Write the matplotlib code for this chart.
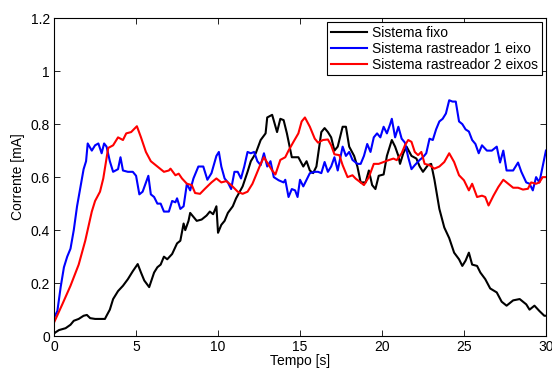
import matplotlib
matplotlib.use("Agg")
import matplotlib.pyplot as plt
from matplotlib.ticker import FormatStrFormatter

# ── Data ─────────────────────────────────────────────────────────────────────
t_fixo = [0, 0.1, 0.3, 0.7, 1.0, 1.2, 1.5, 1.8, 2.0, 2.2, 2.5, 3.1, 3.2, 3.4, 3.6, 3.9,
          4.2, 4.5, 4.8, 5.1, 5.3, 5.5, 5.8, 6.1, 6.3, 6.5, 6.7, 6.9, 7.2, 7.5, 7.7,
          7.9, 8.0, 8.2, 8.3, 8.5, 8.7, 9.0, 9.3, 9.5, 9.7, 9.9, 10.0, 10.2, 10.4,
          10.6, 10.9, 11.1, 11.5, 11.8, 12.0, 12.3, 12.6, 12.9, 13.0, 13.3, 13.6,
          13.8, 14.0, 14.2, 14.5, 14.9, 15.2, 15.4, 15.6, 15.8, 16.0, 16.3, 16.5,
          16.7, 16.9, 17.1, 17.3, 17.6, 17.8, 18.0, 18.3, 18.5, 18.7, 19.0, 19.2,
          19.4, 19.6, 19.8, 20.1, 20.3, 20.6, 20.8, 21.0, 21.1, 21.3, 21.5, 21.8,
          22.1, 22.3, 22.5, 22.8, 23.0, 23.2, 23.5, 23.8, 24.1, 24.4, 24.7, 24.9,
          25.1, 25.3, 25.5, 25.8, 26.0, 26.3, 26.6, 27.0, 27.3, 27.6, 28.0, 28.4,
          28.8, 29.0, 29.3, 29.6, 29.9, 30.0]
i_fixo = [0.01, 0.015, 0.023, 0.03, 0.043, 0.058, 0.065, 0.077, 0.08, 0.068, 0.065,
          0.065, 0.077, 0.10, 0.14, 0.17, 0.19, 0.215, 0.245, 0.272, 0.24, 0.21,
          0.185, 0.24, 0.26, 0.27, 0.30, 0.29, 0.31, 0.35, 0.36, 0.425, 0.40, 0.435,
          0.465, 0.45, 0.435, 0.44, 0.455, 0.47, 0.46, 0.49, 0.39, 0.42, 0.435, 0.465,
          0.49, 0.52, 0.565, 0.62, 0.66, 0.69, 0.74, 0.765, 0.825, 0.835, 0.77, 0.82,
          0.815, 0.765, 0.675, 0.675, 0.64, 0.66, 0.625, 0.615, 0.64, 0.77, 0.785,
          0.77, 0.75, 0.70, 0.715, 0.79, 0.79, 0.715, 0.68, 0.64, 0.58, 0.58, 0.625,
          0.57, 0.555, 0.605, 0.61, 0.68, 0.74, 0.715, 0.68, 0.65, 0.69, 0.715, 0.68,
          0.67, 0.64, 0.62, 0.645, 0.65, 0.59, 0.48, 0.41, 0.37, 0.315, 0.29, 0.265,
          0.285, 0.315, 0.27, 0.265, 0.24, 0.215, 0.18, 0.165, 0.13, 0.115, 0.135,
          0.14, 0.12, 0.10, 0.115, 0.095, 0.077, 0.077]

t_1eixo = [0, 0.2, 0.4, 0.6, 0.8, 1.0, 1.2, 1.4, 1.6, 1.8, 1.95, 2.05, 2.3, 2.5, 2.7,
           2.9, 3.05, 3.2, 3.4, 3.6, 3.9, 4.05, 4.2, 4.5, 4.8, 5.0, 5.2, 5.4, 5.6,
           5.75, 5.9, 6.1, 6.3, 6.5, 6.7, 7.0, 7.2, 7.4, 7.5, 7.7, 7.9, 8.1, 8.3,
           8.5, 8.8, 9.1, 9.35, 9.6, 9.9, 10.05, 10.2, 10.4, 10.6, 10.8, 11.0, 11.2,
           11.4, 11.6, 11.8, 12.0, 12.2, 12.4, 12.6, 12.8, 13.0, 13.2, 13.4, 13.7,
           14.0, 14.1, 14.3, 14.5, 14.7, 14.85, 15.0, 15.2, 15.4, 15.6, 15.9, 16.1,
           16.3, 16.5, 16.7, 16.9, 17.1, 17.3, 17.6, 17.8, 18.0, 18.2, 18.5, 18.7,
           18.9, 19.1, 19.3, 19.5, 19.7, 19.9, 20.1, 20.3, 20.5, 20.6, 20.8, 21.0,
           21.2, 21.4, 21.6, 21.8, 22.0, 22.3, 22.5, 22.7, 22.9, 23.1, 23.3, 23.5,
           23.7, 23.9, 24.1, 24.3, 24.5, 24.7, 24.9, 25.1, 25.3, 25.5, 25.7, 25.9,
           26.1, 26.4, 26.7, 27.0, 27.2, 27.4, 27.6, 28.0, 28.3, 28.5, 28.8, 29.0,
           29.2, 29.4, 29.6, 29.8, 30.0]
i_1eixo = [0.07, 0.095, 0.185, 0.26, 0.30, 0.33, 0.40, 0.49, 0.56, 0.63, 0.66, 0.727,
           0.70, 0.72, 0.727, 0.69, 0.727, 0.715, 0.66, 0.62, 0.63, 0.675, 0.625,
           0.62, 0.62, 0.605, 0.535, 0.545, 0.58, 0.605, 0.535, 0.525, 0.50, 0.50,
           0.47, 0.47, 0.51, 0.505, 0.52, 0.48, 0.49, 0.575, 0.55, 0.595, 0.64, 0.64,
           0.59, 0.615, 0.68, 0.695, 0.64, 0.595, 0.58, 0.555, 0.62, 0.62, 0.595,
           0.64, 0.695, 0.69, 0.695, 0.66, 0.645, 0.69, 0.64, 0.66, 0.60, 0.588,
           0.58, 0.59, 0.525, 0.555, 0.55, 0.525, 0.59, 0.565, 0.59, 0.615, 0.62,
           0.62, 0.615, 0.657, 0.62, 0.64, 0.675, 0.625, 0.715, 0.68, 0.695, 0.665,
           0.65, 0.65, 0.68, 0.725, 0.695, 0.75, 0.765, 0.75, 0.79, 0.765, 0.80,
           0.82, 0.75, 0.79, 0.745, 0.73, 0.675, 0.63, 0.645, 0.665, 0.675, 0.69,
           0.745, 0.74, 0.78, 0.81, 0.82, 0.84, 0.89, 0.885, 0.885, 0.81, 0.80, 0.78,
           0.772, 0.74, 0.725, 0.69, 0.72, 0.70, 0.70, 0.715, 0.655, 0.70, 0.625,
           0.625, 0.655, 0.62, 0.58, 0.575, 0.55, 0.60, 0.58, 0.64, 0.70]

t_2eixos = [0, 0.5, 1.0, 1.5, 1.9, 2.3, 2.5, 2.8, 3.0, 3.3, 3.6, 3.9, 4.2, 4.4, 4.7,
            5.05, 5.3, 5.6, 5.9, 6.3, 6.7, 7.0, 7.1, 7.4, 7.6, 7.8, 8.1, 8.4, 8.6,
            8.9, 9.2, 9.6, 9.9, 10.2, 10.5, 10.8, 11.2, 11.5, 11.8, 12.1, 12.4, 12.6,
            12.8, 13.0, 13.3, 13.5, 13.8, 14.1, 14.3, 14.6, 14.9, 15.1, 15.3, 15.6,
            15.9, 16.1, 16.4, 16.7, 16.9, 17.1, 17.4, 17.6, 17.9, 18.2, 18.4, 18.7,
            18.9, 19.2, 19.5, 19.8, 20.1, 20.4, 20.7, 20.9, 21.2, 21.4, 21.6, 21.8,
            22.0, 22.2, 22.4, 22.6, 22.9, 23.2, 23.5, 23.8, 24.1, 24.4, 24.7, 25.0,
            25.3, 25.5, 25.8, 26.1, 26.3, 26.5, 26.8, 27.1, 27.4, 27.7, 28.0, 28.3,
            28.6, 28.9, 29.1, 29.4, 29.6, 29.8, 30.0]
i_2eixos = [0.052, 0.12, 0.19, 0.27, 0.36, 0.47, 0.51, 0.545, 0.595, 0.71, 0.72, 0.75,
            0.74, 0.765, 0.77, 0.792, 0.75, 0.695, 0.66, 0.64, 0.62, 0.625, 0.632,
            0.607, 0.613, 0.595, 0.575, 0.57, 0.54, 0.537, 0.556, 0.58, 0.595, 0.58,
            0.585, 0.57, 0.545, 0.537, 0.545, 0.575, 0.62, 0.65, 0.675, 0.655, 0.625,
            0.61, 0.665, 0.675, 0.70, 0.733, 0.765, 0.81, 0.825, 0.79, 0.745, 0.73,
            0.74, 0.742, 0.72, 0.686, 0.683, 0.645, 0.60, 0.607, 0.594, 0.58, 0.57,
            0.60, 0.65, 0.65, 0.657, 0.664, 0.67, 0.664, 0.69, 0.72, 0.74, 0.733,
            0.695, 0.683, 0.695, 0.65, 0.645, 0.632, 0.64, 0.657, 0.69, 0.657, 0.607,
            0.588, 0.55, 0.575, 0.525, 0.53, 0.525, 0.493, 0.53, 0.563, 0.59, 0.575,
            0.56, 0.56, 0.553, 0.556, 0.58, 0.575, 0.58, 0.60, 0.60]

labels = ["Sistema fixo", "Sistema rastreador 1 eixo", "Sistema rastreador 2 eixos"]
colors = ["black", "blue", "red"]

# ── Plot ─────────────────────────────────────────────────────────────────────
plt.rcParams["font.family"] = ["Liberation Sans", "DejaVu Sans"]
plt.rcParams["font.size"] = 10

fig = plt.figure(figsize=(5.52, 3.69), dpi=100)
ax = fig.add_axes([0.098, 0.089, 0.891, 0.862])

for (t, i), lab, c in zip([(t_fixo, i_fixo), (t_1eixo, i_1eixo), (t_2eixos, i_2eixos)],
                          labels, colors):
    ax.plot(t, i, color=c, linewidth=1.5, label=lab)

ax.set_xlim(0, 30)
ax.set_ylim(0, 1.2)
ax.set_xticks([0, 5, 10, 15, 20, 25, 30])
ax.set_yticks([0, 0.2, 0.4, 0.6, 0.8, 1.0, 1.2])
ax.yaxis.set_major_formatter(FormatStrFormatter("%g"))
ax.tick_params(direction="in", top=True, right=True, length=4, width=0.6, pad=3,
               labelsize=10)
for s in ax.spines.values():
    s.set_linewidth(0.8)

ax.set_xlabel("Tempo [s]", labelpad=0)
ax.set_ylabel("Corrente [mA]", labelpad=4)

leg = ax.legend(loc="upper right", fancybox=False, edgecolor="black", framealpha=1,
                fontsize=10, handlelength=2.6, handletextpad=0.4, borderpad=0.25,
                labelspacing=0.15, borderaxespad=0.3)
leg.get_frame().set_linewidth(0.8)

fig.savefig("out.png", dpi=100)
plt.close(fig)
